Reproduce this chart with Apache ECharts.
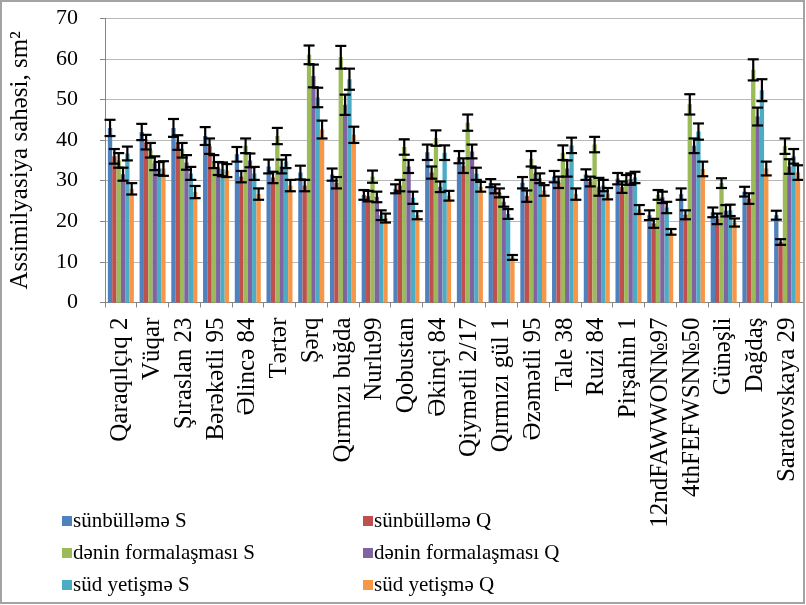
<!DOCTYPE html>
<html>
<head>
<meta charset="utf-8">
<script src="https://cdn.jsdelivr.net/npm/echarts@6/dist/echarts.min.js"></script>
<style>
  html, body { margin: 0; padding: 0; background: #ffffff; }
  #chart { width: 806px; height: 605px; }
</style>
</head>
<body>
<div id="chart"></div>
<script>
// Wheat varieties on the category axis
const categories = ['Qaraqılçıq 2', 'Vüqar', 'Şıraslan 23', 'Bərəkətli 95', 'Əlincə 84', 'Tərtər', 'Şərq',
  'Qırmızı buğda', 'Nurlu99', 'Qobustan', 'Əkinçi 84', 'Qiymətli 2/17', 'Qırmızı gül 1', 'Əzəmətli 95',
  'Tale 38', 'Ruzi 84', 'Pirşahin 1', '12ndFAWWON№97', '4thFEFWSN№50', 'Günəşli', 'Dağdaş', 'Saratovskaya 29'];

const seriesNames = ['sünbülləmə S', 'sünbülləmə Q', 'dənin formalaşması S', 'dənin formalaşması Q', 'süd yetişmə S', 'süd yetişmə Q'];

// Assimilation area, sm²
const spikingS   = [43, 42, 43, 41, 36.5, 33.5, 32, 31.5, 26.5, 28, 37, 35.8, 29.4, 29.5, 31, 31.5, 30.5, 21.5, 26.7, 22.2, 27.3, 21.5];
const spikingQ   = [36, 39.5, 39.4, 38.5, 31, 30.8, 28.8, 29.5, 26.2, 28.8, 32, 33.7, 28, 26.2, 29.6, 29.8, 28.4, 19.5, 21.6, 20.6, 25.6, 14.9];
const grainS     = [35, 37.5, 37.5, 34.7, 38.6, 41, 61, 60.4, 31, 38.3, 40.5, 44.3, 27, 35.4, 36.9, 38.9, 30.2, 26.5, 48.8, 29.4, 57.3, 38.5];
const grainQ     = [31.6, 34.3, 34.5, 33, 35, 33.5, 55.8, 48.7, 26, 33.5, 28.5, 37.2, 24.8, 31.7, 33, 28.5, 30.4, 25.9, 38.6, 22.6, 45.8, 33.5];
const milkS      = [36.7, 33, 31.8, 32.8, 31.8, 34.7, 50.5, 55, 21.5, 25.8, 36.9, 31.7, 21.8, 30.6, 38.7, 28.8, 30.8, 23.4, 42.1, 22.7, 52.3, 36];
const milkQ      = [28, 33, 27.2, 32.5, 26.7, 28.8, 42.6, 41.3, 20.8, 21.5, 26.3, 28.5, 11.1, 27.6, 26.7, 26.8, 22.9, 17.4, 32.9, 19.7, 33, 32];

// Error margins (±)
const spikingSErr = [2, 2, 2.2, 2.2, 1.8, 1.7, 1.7, 1.5, 1.2, 1.1, 1.9, 1.5, 1, 1.4, 1.4, 1.3, 1.4, 1.2, 1.4, 1.2, 1.2, 1.1];
const spikingQErr = [1.8, 1.8, 1.8, 1.9, 1.4, 1.4, 1.4, 1.4, 1.3, 1.4, 1.5, 1.8, 1.1, 1.4, 1.4, 1.2, 1.4, 1.1, 1.1, 1.3, 1.3, 0.7];
const grainSErr   = [1.8, 1.8, 1.8, 1.6, 1.8, 2, 2.3, 2.8, 1.5, 1.9, 1.9, 2, 1.1, 1.9, 1.8, 1.9, 1.2, 1.2, 2.5, 1.2, 2.6, 1.9];
const grainQErr   = [1.6, 1.7, 1.8, 1.6, 1.7, 1.7, 2.8, 2.5, 1.3, 1.6, 1.3, 1.7, 1.2, 1.5, 2, 2.2, 1.4, 1.4, 1.8, 1.4, 2.2, 1.8];
const milkSErr    = [1.7, 1.6, 1.6, 1.7, 1.6, 1.6, 2.4, 2.6, 1.2, 1.5, 1.8, 1.5, 1.2, 1.2, 1.9, 1.4, 1.4, 1.4, 2, 1.4, 2.7, 1.8];
const milkQErr    = [1.4, 1.8, 1.5, 1.6, 1.4, 1.4, 2.2, 2, 1.1, 1, 1.2, 1.2, 0.6, 1.3, 1.4, 1.4, 1.1, 0.7, 1.8, 1, 1.7, 1.8];

const yTicks = [0, 10, 20, 30, 40, 50, 60, 70];

const values = [spikingS, spikingQ, grainS, grainQ, milkS, milkQ];
const errors = [spikingSErr, spikingQErr, grainSErr, grainQErr, milkSErr, milkQErr];
const colors = ['#4F81BD', '#C0504D', '#9BBB59', '#8064A2', '#4BACC6', '#F79646'];

const FONT = 'Liberation Serif';
const CAT_GAP = 0.18;
const N = values.length;

const series = [];
values.forEach((arr, i) => {
  series.push({
    name: seriesNames[i],
    type: 'bar',
    data: arr,
    barGap: '0%',
    barCategoryGap: (CAT_GAP * 100) + '%',
    itemStyle: { color: colors[i] },
    z: 2
  });
});

// Error bars: an I-beam drawn over each bar
values.forEach((arr, i) => {
  series.push({
    type: 'custom',
    name: seriesNames[i] + ' err',
    data: arr.map((v, k) => [k, v, errors[i][k]]),
    z: 5,
    silent: true,
    renderItem: function (params, api) {
      const k = api.value(0), v = api.value(1), e = api.value(2);
      const band = api.size([1, 0])[0];
      const groupW = band * (1 - CAT_GAP);
      const barW = groupW / N;
      const c = api.coord([k, v]);
      const x = c[0] - groupW / 2 + barW * (i + 0.5);
      const yTop = api.coord([k, v + e])[1];
      const yBot = api.coord([k, v - e])[1];
      const hw = 5.5;
      const st = { stroke: '#000', lineWidth: 2.2 };
      return {
        type: 'group',
        children: [
          { type: 'line', shape: { x1: x, y1: yTop, x2: x, y2: yBot }, style: st },
          { type: 'line', shape: { x1: x - hw, y1: yTop, x2: x + hw, y2: yTop }, style: st },
          { type: 'line', shape: { x1: x - hw, y1: yBot, x2: x + hw, y2: yBot }, style: st }
        ]
      };
    }
  });
});

// Legend: two columns of three entries, colour square + series name
const legendCols = [62, 363];
const legendRows = [521, 553, 585];
const legendGraphics = seriesNames.map((name, i) => {
  const x = legendCols[i % 2];
  const y = legendRows[Math.floor(i / 2)];
  return {
    type: 'group',
    children: [
      { type: 'rect', shape: { x: x, y: y - 5, width: 10, height: 10 }, style: { fill: colors[i] } },
      { type: 'text', x: x + 11, y: y, style: {
          text: name, fill: '#000', font: '21px "Liberation Serif"',
          textVerticalAlign: 'middle', verticalAlign: 'middle' } }
    ]
  };
});

const chart = echarts.init(document.getElementById('chart'), null, { renderer: 'canvas' });
chart.setOption({
  animation: false,
  backgroundColor: '#ffffff',
  textStyle: { fontFamily: FONT },
  graphic: [
    { type: 'rect', shape: { x: 1, y: 1, width: 803, height: 602 },
      style: { fill: 'none', stroke: '#a3a3a3', lineWidth: 2 }, z: 100 }
  ].concat(legendGraphics),
  grid: { left: 101, right: 3, top: 18.3, bottom: 302.5, containLabel: false },
  xAxis: {
    type: 'category',
    data: categories,
    axisLine: { lineStyle: { color: '#868686', width: 1 } },
    axisTick: { show: true, length: 5, lineStyle: { color: '#868686' } },
    axisLabel: {
      interval: 0, rotate: 90, margin: 15,
      fontFamily: FONT, fontSize: 25, color: '#000'
    }
  },
  yAxis: {
    type: 'value',
    min: yTicks[0], max: yTicks[yTicks.length - 1], interval: 10,
    name: 'Assimilyasiya sahəsi, sm²',
    nameLocation: 'middle', nameRotate: 90, nameGap: 72,
    nameTextStyle: { fontFamily: FONT, fontSize: 25, color: '#000' },
    axisLine: { show: true, lineStyle: { color: '#868686', width: 1 } },
    axisTick: { show: true, length: 5, lineStyle: { color: '#868686' } },
    axisLabel: { fontFamily: FONT, fontSize: 22, color: '#000', margin: 27 },
    splitLine: { lineStyle: { color: '#b8b8b8', width: 1 } }
  },
  series: series
});
</script>
</body>
</html>
